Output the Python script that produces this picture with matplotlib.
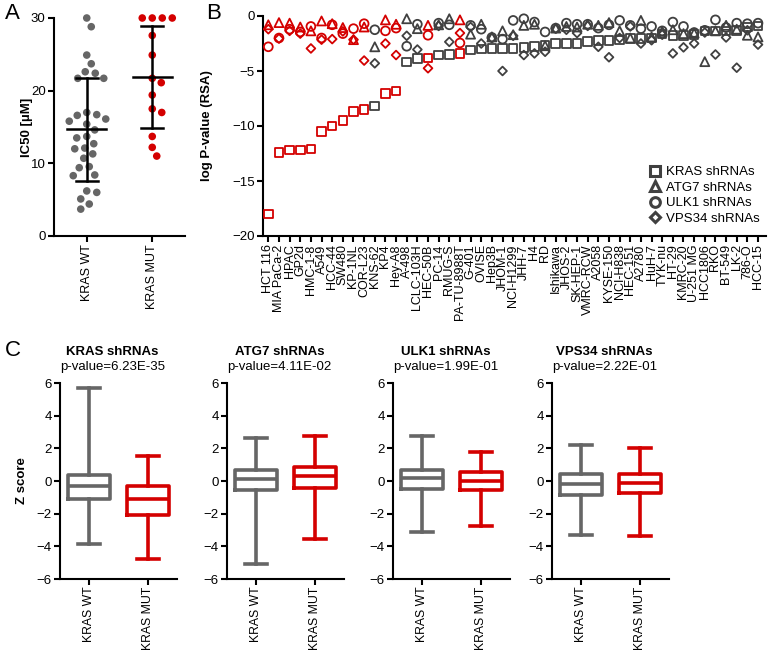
import numpy as np
import matplotlib
matplotlib.use('Agg')
import matplotlib.pyplot as plt
from matplotlib.lines import Line2D

plt.rcParams['font.family'] = ['Liberation Sans', 'DejaVu Sans']

GRAY = '#666666'
DARK = '#404040'
RED = '#d40000'

# ---------------- Panel A data ----------------
ic50_groups = ['KRAS WT', 'KRAS MUT']
ic50_wt = [30.0, 28.8, 24.9, 23.7, 22.6, 22.4, 21.7, 21.7, 17.0, 16.6, 15.8, 16.1,
           16.7, 15.4, 14.6, 13.5, 13.7, 12.7, 12.0, 12.1, 11.3, 10.7, 9.4, 9.55,
           8.3, 8.4, 6.0, 6.2, 5.1, 3.7, 4.4]
ic50_mut = [30.0, 30.0, 30.0, 30.0, 27.6, 24.9, 21.7, 21.1, 19.4, 17.0, 17.5,
            13.7, 12.2, 11.0]

# ---------------- Panel B data ----------------
cell_lines = ['HCT 116', 'MIA PaCa-2', 'HPAC', 'GP2d', 'HMC-1-8', 'A549', 'HCC-44',
              'SW480', 'KP-1NL', 'COR-L23', 'KNS-62', 'KP4', 'Hey-A8', 'A-498',
              'LCLC-103H', 'HEC-50B', 'PC-14', 'RMUG-S', 'PA-TU-8988T', 'G-401',
              'OVISE', 'Hep3B', 'JHOM-1', 'NCI-H1299', 'JHH-7', 'H4', 'RD',
              'Ishikawa', 'JHOS-2', 'SK-HEP-1', 'VMRC-RCW', 'A2058', 'KYSE-150',
              'NCI-H838', 'HEC-151', 'A2780', 'HuH-7', 'TYK-nu', 'HT-29', 'KMRC-20',
              'U-251 MG', 'HCC1806', 'RKO', 'BT-549', 'LK-2', '786-O', 'HCC-15']
kras_mutant = [1, 1, 1, 1, 1, 1, 1, 1, 1, 1, 0, 1, 1, 0, 0, 1, 0, 0, 1, 0,
               0, 0, 0, 0, 0, 0, 0, 0, 0, 0, 0, 0, 0, 0, 0, 0, 0, 0, 0, 0,
               0, 0, 0, 0, 0, 0, 0]
logp_kras = [-18.0, -12.4, -12.2, -12.2, -12.1, -10.5, -10.0, -9.5, -8.7, -8.5,
             -8.2, -7.05, -6.8, -4.2, -3.85, -3.8, -3.55, -3.5, -3.4, -3.1,
             -3.0, -2.95, -2.95, -2.95, -2.85, -2.75, -2.65, -2.5, -2.5, -2.5,
             -2.3, -2.25, -2.25, -2.2, -2.05, -2.05, -2.0, -1.65, -1.75, -1.75,
             -1.7, -1.35, -1.35, -1.35, -1.3, -1.0, -0.9]
logp_atg7 = [-0.8, -0.6, -0.65, -1.0, -1.35, -0.45, -0.7, -1.05, -2.15, -1.0,
             -2.8, -0.35, -0.75, -0.25, -1.15, -0.85, -0.8, -0.25, -0.35, -1.65,
             -0.75, -1.9, -1.35, -1.7, -0.85, -0.75, -2.7, -1.1, -0.95, -1.0,
             -0.75, -0.85, -0.6, -1.35, -2.0, -0.4, -1.9, -1.4, -1.25, -1.6,
             -1.55, -4.15, -1.35, -0.85, -1.2, -1.75, -1.9]
logp_ulk1 = [-2.8, -2.0, -1.2, -1.45, -0.95, -2.0, -0.8, -1.6, -1.15, -0.7,
             -1.25, -1.35, -1.1, -2.75, -0.75, -1.75, -0.65, -0.8, -2.45, -0.85,
             -1.2, -1.95, -2.1, -0.4, -0.25, -0.55, -1.45, -1.1, -0.65, -0.75,
             -0.75, -1.1, -0.8, -0.4, -0.85, -1.15, -0.95, -1.35, -0.55, -0.95,
             -1.5, -1.3, -0.35, -1.05, -0.65, -0.7, -0.65]
logp_vps34 = [-1.2, -2.05, -1.35, -1.6, -2.95, -2.15, -2.1, -1.4, -2.15, -4.05,
              -4.3, -2.5, -3.55, -1.8, -3.05, -4.75, -0.9, -2.35, -1.55, -1.0,
              -2.5, -2.0, -5.0, -1.8, -3.55, -3.4, -3.25, -1.15, -1.25, -1.55,
              -0.9, -2.8, -3.75, -2.0, -0.95, -2.5, -2.2, -1.7, -3.4, -2.85,
              -2.5, -1.5, -3.5, -1.95, -4.7, -1.3, -2.6]
series_names = ['KRAS shRNAs', 'ATG7 shRNAs', 'ULK1 shRNAs', 'VPS34 shRNAs']

# ---------------- Panel C data ----------------
box_genes = ['KRAS shRNAs', 'ATG7 shRNAs', 'ULK1 shRNAs', 'VPS34 shRNAs']
box_pvalues = ['6.23E-35', '4.11E-02', '1.99E-01', '2.22E-01']
box_groups = ['KRAS WT', 'KRAS MUT']
# (whisker low, q1, median, q3, whisker high)
box_wt = [(-3.85, -1.08, -0.33, 0.38, 5.7),
          (-5.1, -0.57, 0.12, 0.69, 2.63),
          (-3.15, -0.51, 0.16, 0.67, 2.75),
          (-3.3, -0.85, -0.18, 0.41, 2.2)]
box_mut = [(-4.75, -2.06, -1.12, -0.33, 1.55),
           (-3.55, -0.4, 0.3, 0.88, 2.78),
           (-2.75, -0.55, 0.0, 0.57, 1.8),
           (-3.36, -0.71, -0.14, 0.41, 2.0)]

W, H = 768, 654
fig = plt.figure(figsize=(W / 100, H / 100), dpi=100)


def ax_px(left, top, right, bottom):
    return fig.add_axes([left / W, 1 - bottom / H, (right - left) / W, (bottom - top) / H])


def style(ax):
    for s in ['top', 'right']:
        ax.spines[s].set_visible(False)
    for s in ['left', 'bottom']:
        ax.spines[s].set_linewidth(1.5)
        ax.spines[s].set_color('black')
    ax.tick_params(direction='out', length=4, width=1.5, labelsize=9.5, pad=2)


def swarm(vals, px_per_unit, d):
    vals = np.asarray(vals, dtype=float)
    order = np.argsort(-vals)
    placed = []
    off = np.zeros(len(vals))
    cands = [0.0]
    for k in range(1, 200):
        cands += [k * 0.5, -k * 0.5]
    for i in order:
        y = vals[i] * px_per_unit
        for c in cands:
            ok = True
            for (px, py) in placed:
                if (px - c) ** 2 + (py - y) ** 2 < d * d:
                    ok = False
                    break
            if ok:
                off[i] = c
                placed.append((c, y))
                break
    return off


# ---------------- Panel A ----------------
axA = ax_px(54, 18, 185, 236)
style(axA)
axA.set_xlim(-0.5, 1.5)
axA.set_ylim(0, 30)
axA.set_yticks([0, 10, 20, 30])
px_per_unit_x = 131 / 2.0
px_per_unit_y = 218 / 30.0
for gi, (vals, col) in enumerate([(ic50_wt, GRAY), (ic50_mut, RED)]):
    off = swarm(vals, px_per_unit_y, 9.8) / px_per_unit_x
    axA.scatter(gi + off, vals, s=30, color=col, edgecolors='none', zorder=2, clip_on=False)
    m = np.mean(vals)
    sd = np.std(vals, ddof=1)
    axA.plot([gi - 0.3, gi + 0.3], [m, m], color='black', lw=1.8, zorder=3)
    axA.plot([gi - 0.17, gi + 0.17], [m + sd, m + sd], color='black', lw=1.8, zorder=3)
    axA.plot([gi - 0.17, gi + 0.17], [m - sd, m - sd], color='black', lw=1.8, zorder=3)
    axA.plot([gi, gi], [m - sd, m + sd], color='black', lw=1.8, zorder=3)
axA.set_xticks([0, 1])
axA.set_xticklabels(ic50_groups, rotation=90, fontsize=9)
axA.set_ylabel('IC50 [µM]', fontweight='bold', fontsize=9.5)
axA.yaxis.set_label_coords((33 - 54) / 131, 0.5)

# ---------------- Panel B ----------------
axB = ax_px(263, 16, 766, 236)
style(axB)
axB.set_ylim(-20, 0)
axB.set_xlim(-0.5, 46.75)
axB.set_yticks([0, -5, -10, -15, -20])
x = np.arange(len(cell_lines))
cols = [RED if k else DARK for k in kras_mutant]
markers = ['s', '^', 'o', 'D']
sizes = [38, 42, 40, 20]
for vals, mk, sz in zip([logp_kras, logp_atg7, logp_ulk1, logp_vps34], markers, sizes):
    axB.scatter(x, vals, marker=mk, s=sz, facecolors='none', edgecolors=cols,
                linewidths=1.3, zorder=3, clip_on=False)
axB.set_xticks(x)
axB.set_xticklabels(cell_lines, rotation=90, fontsize=9)
axB.tick_params(axis='x', length=4)
axB.set_ylabel('log P-value (RSA)', fontweight='bold', fontsize=9.5)
axB.yaxis.set_label_coords((213 - 263) / 503, 0.5)
handles = [Line2D([], [], ls='', marker=m, ms=ms, mfc='none', mec=DARK, mew=2.2)
           for m, ms in zip(markers, [7, 7.5, 7, 5.5])]
axB.legend(handles, series_names, loc='lower right', bbox_to_anchor=(1.0, 0.02),
           frameon=False, fontsize=9.5, handletextpad=0.2, labelspacing=0.25,
           borderpad=0, handlelength=1.2)

# ---------------- Panel C ----------------
c_lefts = [60, 227, 393, 552]
for k in range(4):
    ax = ax_px(c_lefts[k], 383, c_lefts[k] + 117, 579)
    style(ax)
    ax.set_ylim(-6, 6)
    ax.set_xlim(-0.5, 1.5)
    ax.set_yticks([-6, -4, -2, 0, 2, 4, 6])
    for gi, (st, col) in enumerate([(box_wt[k], GRAY), (box_mut[k], RED)]):
        lo, q1, med, q3, hi = st
        stats = [dict(whislo=lo, q1=q1, med=med, q3=q3, whishi=hi, fliers=[])]
        lp = dict(color=col, linewidth=2.6)
        ax.bxp(stats, positions=[gi], widths=0.72, capwidths=0.38, showfliers=False,
               boxprops=lp, whiskerprops=lp, capprops=lp, medianprops=lp,
               manage_ticks=False)
    ax.set_xticks([0, 1])
    ax.set_xticklabels(box_groups, rotation=90, fontsize=8.8)
    ax.tick_params(axis='x', pad=1.5)
    ax.text(0.45, 1.16, box_genes[k], transform=ax.transAxes, ha='center',
            va='center', fontsize=9.5, fontweight='bold')
    ax.text(0.45, 1.08, 'p-value=' + box_pvalues[k], transform=ax.transAxes,
            ha='center', va='center', fontsize=9.5)
    if k == 0:
        ax.set_ylabel('Z score', fontweight='bold', fontsize=9.5)
        ax.yaxis.set_label_coords((28 - 60) / 117, 0.5)

# panel letters
fig.text(5 / W, 1 - 3 / H, 'A', fontsize=16, va='top', ha='left')
fig.text(206 / W, 1 - 3 / H, 'B', fontsize=16, va='top', ha='left')
fig.text(5 / W, 1 - 340 / H, 'C', fontsize=16, va='top', ha='left')

fig.savefig('out.png', dpi=100, facecolor='white')
